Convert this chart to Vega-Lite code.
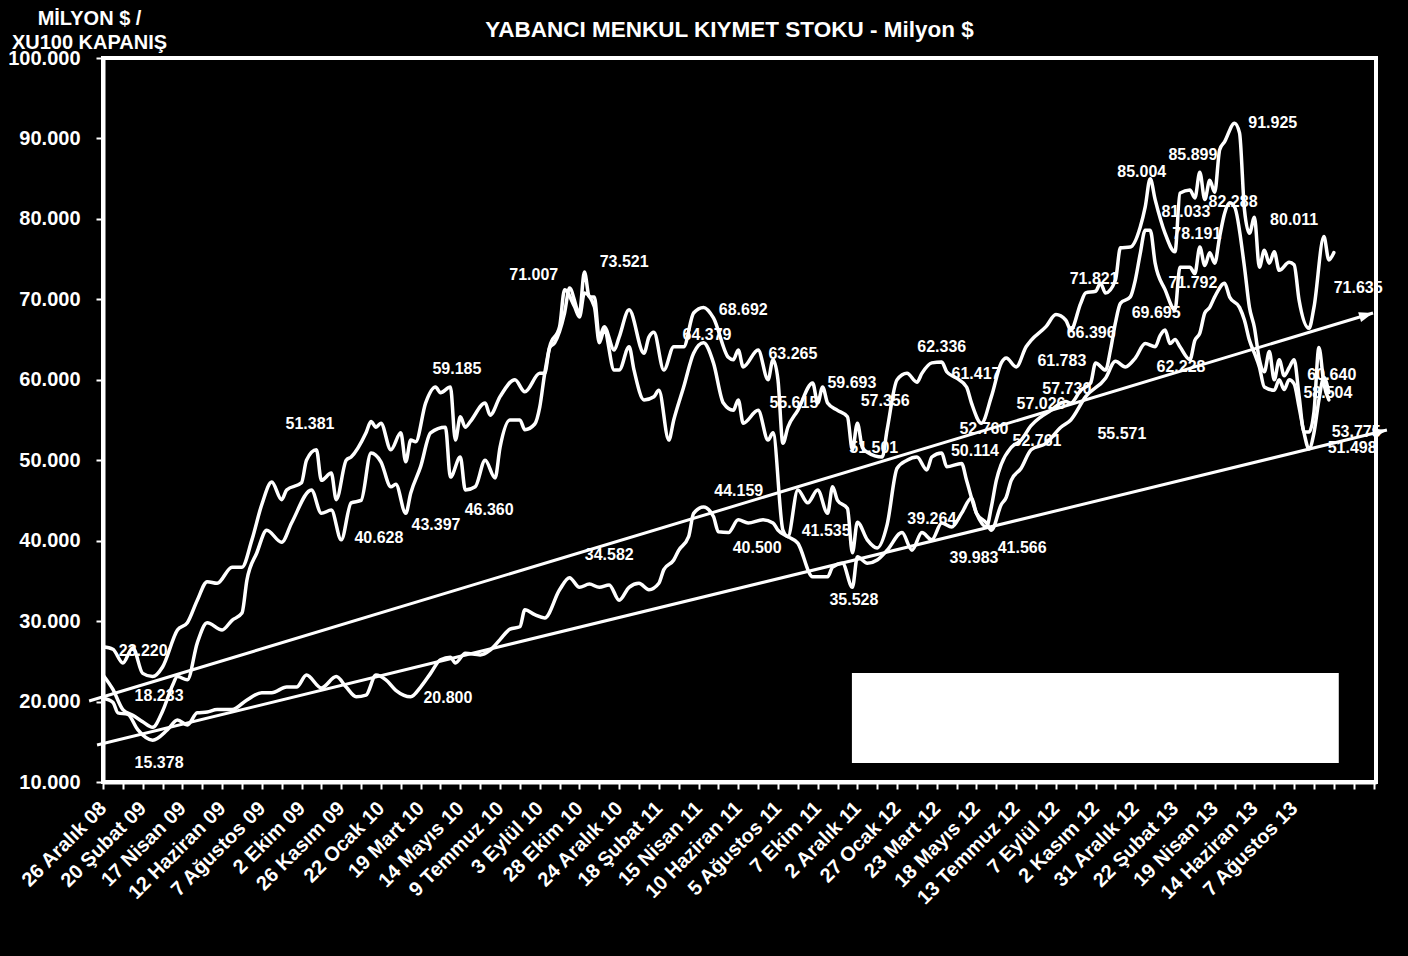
{
  "$schema": "https://vega.github.io/schema/vega-lite/v6.json",
  "width": 1273,
  "height": 724,
  "autosize": {"type": "none"},
  "padding": {"left": 103, "top": 58, "right": 32, "bottom": 174},
  "background": "black",
  "title": {
    "text": "YABANCI MENKUL KIYMET STOKU - Milyon $",
    "font": "Liberation Sans",
    "fontSize": 22.5,
    "fontWeight": "bold",
    "color": "white",
    "anchor": "middle",
    "frame": "group",
    "baseline": "alphabetic",
    "offset": -51,
    "dx": -10
  },
  "datasets": {
    "kutu": [{"h": 150.9, "h2": 249.0, "v": 23550, "v2": 12360}],
    "trend": [
      {"ad": "üst", "h": -2.8, "v": 20070, "h2": 255.9, "v2": 68300},
      {"ad": "alt", "h": -1.2, "v": 14600, "h2": 258.7, "v2": 53750}
    ],
    "seriler": [
      {"h":0,"s":"A","v":26800},{"h":2,"s":"A","v":26500},{"h":4,"s":"A","v":24800},{"h":6,"s":"A","v":26700},{"h":8,"s":"A","v":23500},{"h":10,"s":"A","v":23100},{"h":12,"s":"A","v":24300},{"h":15,"s":"A","v":28900},{"h":17,"s":"A","v":29800},{"h":19,"s":"A","v":32600},{"h":21,"s":"A","v":34900},{"h":23,"s":"A","v":34700},{"h":26,"s":"A","v":36700},{"h":28,"s":"A","v":36700},{"h":30,"s":"A","v":40100},{"h":32,"s":"A","v":44500},{"h":34,"s":"A","v":47300},{"h":36,"s":"A","v":45100},{"h":37,"s":"A","v":46300},{"h":40,"s":"A","v":47200},{"h":41,"s":"A","v":50000},{"h":43,"s":"A","v":51300},{"h":44,"s":"A","v":47500},{"h":46,"s":"A","v":48400},{"h":47,"s":"A","v":45100},{"h":49,"s":"A","v":50000},{"h":50,"s":"A","v":50400},{"h":53,"s":"A","v":53400},{"h":54,"s":"A","v":54800},{"h":55,"s":"A","v":54100},{"h":56,"s":"A","v":54600},{"h":58,"s":"A","v":51300},{"h":60,"s":"A","v":53400},{"h":61,"s":"A","v":49800},{"h":62,"s":"A","v":52500},{"h":63,"s":"A","v":52300},{"h":65,"s":"A","v":57100},{"h":67,"s":"A","v":59100},{"h":68,"s":"A","v":58400},{"h":70,"s":"A","v":59100},{"h":71,"s":"A","v":52500},{"h":72,"s":"A","v":55400},{"h":73,"s":"A","v":54100},{"h":74,"s":"A","v":54800},{"h":77,"s":"A","v":57100},{"h":78,"s":"A","v":55600},{"h":80,"s":"A","v":57900},{"h":83,"s":"A","v":60000},{"h":85,"s":"A","v":58500},{"h":88,"s":"A","v":60800},{"h":89,"s":"A","v":60800},{"h":90,"s":"A","v":64000},{"h":91,"s":"A","v":64600},{"h":93,"s":"A","v":68300},{"h":94,"s":"A","v":71400},{"h":96,"s":"A","v":68300},{"h":97,"s":"A","v":73400},{"h":98,"s":"A","v":70300},{"h":99,"s":"A","v":70300},{"h":100,"s":"A","v":65300},{"h":101,"s":"A","v":66600},{"h":103,"s":"A","v":63700},{"h":104,"s":"A","v":65300},{"h":106,"s":"A","v":68700},{"h":109,"s":"A","v":63300},{"h":110,"s":"A","v":65300},{"h":111,"s":"A","v":65900},{"h":113,"s":"A","v":61200},{"h":115,"s":"A","v":64100},{"h":117,"s":"A","v":64100},{"h":119,"s":"A","v":68300},{"h":121,"s":"A","v":69000},{"h":123,"s":"A","v":67700},{"h":126,"s":"A","v":62800},{"h":127,"s":"A","v":62500},{"h":128,"s":"A","v":63700},{"h":129,"s":"A","v":61600},{"h":132,"s":"A","v":63700},{"h":134,"s":"A","v":60000},{"h":135,"s":"A","v":62500},{"h":136,"s":"A","v":60000},{"h":137,"s":"A","v":52100},{"h":138,"s":"A","v":54100},{"h":140,"s":"A","v":56200},{"h":143,"s":"A","v":59600},{"h":144,"s":"A","v":57100},{"h":145,"s":"A","v":59100},{"h":146,"s":"A","v":57100},{"h":148,"s":"A","v":56200},{"h":150,"s":"A","v":55400},{"h":151,"s":"A","v":51300},{"h":152,"s":"A","v":54600},{"h":153,"s":"A","v":51600},{"h":154,"s":"A","v":51000},{"h":157,"s":"A","v":50400},{"h":158,"s":"A","v":53800},{"h":160,"s":"A","v":60000},{"h":162,"s":"A","v":60800},{"h":164,"s":"A","v":59700},{"h":165,"s":"A","v":60800},{"h":167,"s":"A","v":62100},{"h":169,"s":"A","v":62200},{"h":170,"s":"A","v":61000},{"h":172,"s":"A","v":60200},{"h":174,"s":"A","v":59100},{"h":175,"s":"A","v":57100},{"h":177,"s":"A","v":54600},{"h":179,"s":"A","v":57900},{"h":181,"s":"A","v":62100},{"h":182,"s":"A","v":62700},{"h":184,"s":"A","v":61600},{"h":186,"s":"A","v":64100},{"h":187,"s":"A","v":64900},{"h":190,"s":"A","v":66600},{"h":192,"s":"A","v":68100},{"h":194,"s":"A","v":67400},{"h":195,"s":"A","v":66200},{"h":197,"s":"A","v":69500},{"h":198,"s":"A","v":70800},{"h":200,"s":"A","v":71000},{"h":201,"s":"A","v":72000},{"h":202,"s":"A","v":70800},{"h":204,"s":"A","v":72400},{"h":205,"s":"A","v":76400},{"h":207,"s":"A","v":76500},{"h":209,"s":"A","v":79000},{"h":210,"s":"A","v":81500},{"h":211,"s":"A","v":85000},{"h":212,"s":"A","v":82400},{"h":214,"s":"A","v":78200},{"h":216,"s":"A","v":75900},{"h":217,"s":"A","v":83200},{"h":219,"s":"A","v":83600},{"h":220,"s":"A","v":82600},{"h":221,"s":"A","v":85800},{"h":222,"s":"A","v":82400},{"h":223,"s":"A","v":84800},{"h":224,"s":"A","v":83300},{"h":225,"s":"A","v":88600},{"h":226,"s":"A","v":89600},{"h":228,"s":"A","v":91900},{"h":229,"s":"A","v":90700},{"h":230,"s":"A","v":81100},{"h":231,"s":"A","v":78200},{"h":232,"s":"A","v":80200},{"h":233,"s":"A","v":74000},{"h":234,"s":"A","v":76100},{"h":235,"s":"A","v":74500},{"h":236,"s":"A","v":75900},{"h":237,"s":"A","v":73600},{"h":239,"s":"A","v":74600},{"h":240,"s":"A","v":74300},{"h":241,"s":"A","v":69900},{"h":243,"s":"A","v":66400},{"h":244,"s":"A","v":69000},{"h":246,"s":"A","v":77800},{"h":247,"s":"A","v":74900},{"h":248,"s":"A","v":75800},
      {"h":0,"s":"B","v":23300},{"h":2,"s":"B","v":21500},{"h":4,"s":"B","v":19000},{"h":6,"s":"B","v":18300},{"h":8,"s":"B","v":17500},{"h":10,"s":"B","v":16800},{"h":12,"s":"B","v":18800},{"h":14,"s":"B","v":22000},{"h":15,"s":"B","v":23100},{"h":17,"s":"B","v":22700},{"h":19,"s":"B","v":27300},{"h":21,"s":"B","v":29800},{"h":24,"s":"B","v":28900},{"h":26,"s":"B","v":30100},{"h":28,"s":"B","v":31000},{"h":29,"s":"B","v":35100},{"h":31,"s":"B","v":38500},{"h":33,"s":"B","v":41300},{"h":36,"s":"B","v":39800},{"h":38,"s":"B","v":42200},{"h":42,"s":"B","v":46300},{"h":44,"s":"B","v":43400},{"h":46,"s":"B","v":43800},{"h":48,"s":"B","v":40100},{"h":50,"s":"B","v":44700},{"h":52,"s":"B","v":45000},{"h":54,"s":"B","v":50900},{"h":56,"s":"B","v":49800},{"h":58,"s":"B","v":46700},{"h":59,"s":"B","v":47000},{"h":61,"s":"B","v":43400},{"h":62,"s":"B","v":45900},{"h":64,"s":"B","v":49200},{"h":66,"s":"B","v":53400},{"h":69,"s":"B","v":54100},{"h":70,"s":"B","v":47900},{"h":72,"s":"B","v":50400},{"h":73,"s":"B","v":46300},{"h":75,"s":"B","v":46700},{"h":77,"s":"B","v":50000},{"h":79,"s":"B","v":47800},{"h":80,"s":"B","v":51600},{"h":82,"s":"B","v":55000},{"h":84,"s":"B","v":55000},{"h":85,"s":"B","v":53800},{"h":87,"s":"B","v":54500},{"h":88,"s":"B","v":56600},{"h":89,"s":"B","v":60800},{"h":90,"s":"B","v":64100},{"h":92,"s":"B","v":66600},{"h":93,"s":"B","v":71200},{"h":95,"s":"B","v":69100},{"h":96,"s":"B","v":67800},{"h":97,"s":"B","v":70800},{"h":99,"s":"B","v":69100},{"h":100,"s":"B","v":64600},{"h":101,"s":"B","v":66200},{"h":103,"s":"B","v":61200},{"h":104,"s":"B","v":61200},{"h":106,"s":"B","v":64100},{"h":107,"s":"B","v":61200},{"h":109,"s":"B","v":57500},{"h":111,"s":"B","v":57900},{"h":112,"s":"B","v":58700},{"h":114,"s":"B","v":52500},{"h":115,"s":"B","v":55000},{"h":117,"s":"B","v":59100},{"h":119,"s":"B","v":63300},{"h":121,"s":"B","v":64600},{"h":123,"s":"B","v":62100},{"h":125,"s":"B","v":57100},{"h":127,"s":"B","v":56200},{"h":128,"s":"B","v":57500},{"h":129,"s":"B","v":54600},{"h":132,"s":"B","v":56200},{"h":134,"s":"B","v":52500},{"h":135,"s":"B","v":53400},{"h":137,"s":"B","v":41300},{"h":138,"s":"B","v":40500},{"h":140,"s":"B","v":46300},{"h":142,"s":"B","v":44700},{"h":144,"s":"B","v":46300},{"h":146,"s":"B","v":43400},{"h":147,"s":"B","v":46700},{"h":148,"s":"B","v":45000},{"h":150,"s":"B","v":44000},{"h":151,"s":"B","v":38500},{"h":152,"s":"B","v":42300},{"h":154,"s":"B","v":40100},{"h":156,"s":"B","v":39100},{"h":158,"s":"B","v":42000},{"h":160,"s":"B","v":49000},{"h":162,"s":"B","v":50000},{"h":164,"s":"B","v":50400},{"h":166,"s":"B","v":48800},{"h":167,"s":"B","v":50400},{"h":169,"s":"B","v":50900},{"h":170,"s":"B","v":49200},{"h":173,"s":"B","v":49600},{"h":174,"s":"B","v":47500},{"h":176,"s":"B","v":43400},{"h":178,"s":"B","v":41700},{"h":179,"s":"B","v":44200},{"h":180,"s":"B","v":47500},{"h":181,"s":"B","v":49500},{"h":183,"s":"B","v":51600},{"h":185,"s":"B","v":52500},{"h":187,"s":"B","v":54300},{"h":189,"s":"B","v":55400},{"h":191,"s":"B","v":56200},{"h":193,"s":"B","v":57100},{"h":194,"s":"B","v":57300},{"h":195,"s":"B","v":57100},{"h":197,"s":"B","v":58700},{"h":199,"s":"B","v":59600},{"h":200,"s":"B","v":62100},{"h":202,"s":"B","v":61200},{"h":203,"s":"B","v":63700},{"h":204,"s":"B","v":67100},{"h":205,"s":"B","v":69500},{"h":207,"s":"B","v":70300},{"h":208,"s":"B","v":72400},{"h":209,"s":"B","v":75700},{"h":210,"s":"B","v":78600},{"h":211,"s":"B","v":78600},{"h":212,"s":"B","v":74500},{"h":214,"s":"B","v":71200},{"h":216,"s":"B","v":68700},{"h":217,"s":"B","v":74000},{"h":219,"s":"B","v":74000},{"h":220,"s":"B","v":73200},{"h":221,"s":"B","v":76500},{"h":222,"s":"B","v":74200},{"h":223,"s":"B","v":75800},{"h":224,"s":"B","v":74500},{"h":225,"s":"B","v":77800},{"h":226,"s":"B","v":80700},{"h":227,"s":"B","v":82000},{"h":228,"s":"B","v":81500},{"h":230,"s":"B","v":74000},{"h":231,"s":"B","v":69000},{"h":232,"s":"B","v":66500},{"h":233,"s":"B","v":62500},{"h":234,"s":"B","v":61000},{"h":235,"s":"B","v":63500},{"h":236,"s":"B","v":60000},{"h":237,"s":"B","v":62500},{"h":238,"s":"B","v":60500},{"h":239,"s":"B","v":61500},{"h":240,"s":"B","v":62500},{"h":241,"s":"B","v":58000},{"h":242,"s":"B","v":53500},{"h":243,"s":"B","v":53500},{"h":244,"s":"B","v":56000},{"h":245,"s":"B","v":64000},{"h":246,"s":"B","v":59500},{"h":247,"s":"B","v":57500},
      {"h":0,"s":"C","v":20400},{"h":2,"s":"C","v":19900},{"h":3,"s":"C","v":18600},{"h":5,"s":"C","v":18400},{"h":7,"s":"C","v":16500},{"h":10,"s":"C","v":15200},{"h":13,"s":"C","v":16500},{"h":15,"s":"C","v":17700},{"h":17,"s":"C","v":17100},{"h":19,"s":"C","v":18600},{"h":21,"s":"C","v":18700},{"h":23,"s":"C","v":19000},{"h":26,"s":"C","v":19000},{"h":29,"s":"C","v":20200},{"h":32,"s":"C","v":21100},{"h":34,"s":"C","v":21100},{"h":37,"s":"C","v":21800},{"h":39,"s":"C","v":21800},{"h":41,"s":"C","v":23300},{"h":44,"s":"C","v":21700},{"h":47,"s":"C","v":23100},{"h":49,"s":"C","v":21800},{"h":51,"s":"C","v":20600},{"h":53,"s":"C","v":20800},{"h":55,"s":"C","v":23300},{"h":57,"s":"C","v":22700},{"h":59,"s":"C","v":21400},{"h":62,"s":"C","v":20600},{"h":64,"s":"C","v":21800},{"h":66,"s":"C","v":23500},{"h":68,"s":"C","v":25200},{"h":70,"s":"C","v":25500},{"h":71,"s":"C","v":24800},{"h":73,"s":"C","v":26000},{"h":76,"s":"C","v":25800},{"h":78,"s":"C","v":26400},{"h":80,"s":"C","v":27700},{"h":82,"s":"C","v":29000},{"h":84,"s":"C","v":29300},{"h":85,"s":"C","v":31400},{"h":87,"s":"C","v":30800},{"h":89,"s":"C","v":30400},{"h":92,"s":"C","v":33900},{"h":94,"s":"C","v":35400},{"h":96,"s":"C","v":34200},{"h":98,"s":"C","v":34600},{"h":100,"s":"C","v":34200},{"h":102,"s":"C","v":34500},{"h":104,"s":"C","v":32600},{"h":106,"s":"C","v":34200},{"h":108,"s":"C","v":34700},{"h":110,"s":"C","v":33900},{"h":112,"s":"C","v":34700},{"h":113,"s":"C","v":36400},{"h":115,"s":"C","v":37600},{"h":116,"s":"C","v":38800},{"h":118,"s":"C","v":40500},{"h":119,"s":"C","v":43400},{"h":121,"s":"C","v":44200},{"h":123,"s":"C","v":43000},{"h":124,"s":"C","v":41100},{"h":126,"s":"C","v":41000},{"h":128,"s":"C","v":42600},{"h":130,"s":"C","v":42200},{"h":133,"s":"C","v":42600},{"h":135,"s":"C","v":42200},{"h":136,"s":"C","v":41300},{"h":138,"s":"C","v":40500},{"h":140,"s":"C","v":39700},{"h":143,"s":"C","v":35500},{"h":146,"s":"C","v":35500},{"h":147,"s":"C","v":36700},{"h":149,"s":"C","v":37200},{"h":151,"s":"C","v":34200},{"h":152,"s":"C","v":38000},{"h":154,"s":"C","v":37200},{"h":156,"s":"C","v":37600},{"h":158,"s":"C","v":38800},{"h":161,"s":"C","v":41000},{"h":163,"s":"C","v":38800},{"h":165,"s":"C","v":41000},{"h":167,"s":"C","v":40100},{"h":169,"s":"C","v":42200},{"h":171,"s":"C","v":41700},{"h":173,"s":"C","v":43400},{"h":175,"s":"C","v":45300},{"h":176,"s":"C","v":43400},{"h":178,"s":"C","v":42200},{"h":179,"s":"C","v":41300},{"h":181,"s":"C","v":44500},{"h":182,"s":"C","v":45400},{"h":183,"s":"C","v":47500},{"h":185,"s":"C","v":49000},{"h":187,"s":"C","v":51300},{"h":190,"s":"C","v":52100},{"h":193,"s":"C","v":54100},{"h":195,"s":"C","v":55000},{"h":198,"s":"C","v":57900},{"h":202,"s":"C","v":60200},{"h":204,"s":"C","v":62300},{"h":206,"s":"C","v":61600},{"h":208,"s":"C","v":62700},{"h":210,"s":"C","v":64500},{"h":212,"s":"C","v":64100},{"h":213,"s":"C","v":65500},{"h":214,"s":"C","v":66200},{"h":215,"s":"C","v":64500},{"h":216,"s":"C","v":65000},{"h":217,"s":"C","v":64100},{"h":219,"s":"C","v":62500},{"h":220,"s":"C","v":64900},{"h":221,"s":"C","v":65800},{"h":222,"s":"C","v":68300},{"h":223,"s":"C","v":69000},{"h":224,"s":"C","v":70300},{"h":226,"s":"C","v":72000},{"h":227,"s":"C","v":70300},{"h":229,"s":"C","v":69000},{"h":230,"s":"C","v":67400},{"h":231,"s":"C","v":64900},{"h":232,"s":"C","v":63300},{"h":233,"s":"C","v":61600},{"h":234,"s":"C","v":59100},{"h":236,"s":"C","v":58700},{"h":237,"s":"C","v":60000},{"h":238,"s":"C","v":58800},{"h":239,"s":"C","v":60000},{"h":240,"s":"C","v":59500},{"h":241,"s":"C","v":56600},{"h":242,"s":"C","v":53400},{"h":243,"s":"C","v":51400},{"h":244,"s":"C","v":53400},{"h":245,"s":"C","v":57500},{"h":246,"s":"C","v":60300},{"h":247,"s":"C","v":58400}
    ],
    "etiket": [
      {"h":8.1,"v":26280,"t":"23.220"},{"h":11.3,"v":20690,"t":"18.233"},{"h":11.3,"v":12360,"t":"15.378"},{"h":41.7,"v":54500,"t":"51.381"},{"h":71.3,"v":61340,"t":"59.185"},{"h":55.6,"v":40330,"t":"40.628"},{"h":67.1,"v":41950,"t":"43.397"},{"h":77.8,"v":43810,"t":"46.360"},{"h":69.5,"v":20440,"t":"20.800"},{"h":86.8,"v":73020,"t":"71.007"},{"h":105.0,"v":74640,"t":"73.521"},{"h":129.0,"v":68670,"t":"68.692"},{"h":121.7,"v":65560,"t":"64.379"},{"h":139.0,"v":63200,"t":"63.265"},{"h":102.0,"v":38220,"t":"34.582"},{"h":128.1,"v":46170,"t":"44.159"},{"h":131.8,"v":39090,"t":"40.500"},{"h":139.2,"v":57110,"t":"55.615"},{"h":150.9,"v":59600,"t":"59.693"},{"h":157.6,"v":57360,"t":"57.356"},{"h":155.3,"v":51520,"t":"51.501"},{"h":145.7,"v":41200,"t":"41.535"},{"h":151.3,"v":32620,"t":"35.528"},{"h":169.0,"v":64070,"t":"62.336"},{"h":175.9,"v":60710,"t":"61.417"},{"h":177.5,"v":53880,"t":"52.760"},{"h":175.7,"v":51140,"t":"50.114"},{"h":167.0,"v":42690,"t":"39.264"},{"h":175.5,"v":37840,"t":"39.983"},{"h":185.2,"v":39090,"t":"41.566"},{"h":199.7,"v":72530,"t":"71.821"},{"h":199.1,"v":65810,"t":"66.396"},{"h":193.2,"v":62330,"t":"61.783"},{"h":194.2,"v":58850,"t":"57.730"},{"h":189.0,"v":56990,"t":"57.026"},{"h":188.2,"v":52390,"t":"52.761"},{"h":205.3,"v":53260,"t":"55.571"},{"h":209.3,"v":85820,"t":"85.004"},{"h":219.6,"v":87940,"t":"85.899"},{"h":218.2,"v":80850,"t":"81.033"},{"h":227.7,"v":82090,"t":"82.288"},{"h":220.4,"v":78120,"t":"78.191"},{"h":235.7,"v":91910,"t":"91.925"},{"h":240.0,"v":79860,"t":"80.011"},{"h":212.2,"v":68300,"t":"69.695"},{"h":219.6,"v":72030,"t":"71.792"},{"h":217.2,"v":61580,"t":"62.228"},{"h":252.9,"v":71400,"t":"71.635"},{"h":247.6,"v":60590,"t":"60.640"},{"h":246.8,"v":58350,"t":"58.504"},{"h":252.5,"v":53510,"t":"53.775"},{"h":251.7,"v":51520,"t":"51.498"}
    ]
  },
  "layer": [
    {
      "data": {"name": "seriler"},
      "mark": {"type": "line", "interpolate": "monotone", "color": "white", "strokeWidth": 3.5, "strokeJoin": "round", "strokeCap": "round"},
      "encoding": {
        "x": {
          "field": "h", "type": "quantitative",
          "scale": {"domain": [0, 256.5], "nice": false, "zero": false},
          "axis": {
            "title": null,
            "values": [0,4,8,12,16,20,24,28,32,36,40,44,48,52,56,60,64,68,72,76,80,84,88,92,96,100,104,108,112,116,120,124,128,132,136,140,144,148,152,156,160,164,168,172,176,180,184,188,192,196,200,204,208,212,216,220,224,228,232,236,240,244,248,252,256],
            "tickCount": 200,
            "labelExpr": "datum.value % 8 == 0 && datum.value <= 240 ? ['26 Aralık 08','20 Şubat 09','17 Nisan 09','12 Haziran 09','7 Ağustos 09','2 Ekim 09','26 Kasım 09','22 Ocak 10','19 Mart 10','14 Mayıs 10','9 Temmuz 10','3 Eylül 10','28 Ekim 10','24 Aralık 10','18 Şubat 11','15 Nisan 11','10 Haziran 11','5 Ağustos 11','7 Ekim 11','2 Aralık 11','27 Ocak 12','23 Mart 12','18 Mayıs 12','13 Temmuz 12','7 Eylül 12','2 Kasım 12','31 Aralık 12','22 Şubat 13','19 Nisan 13','14 Haziran 13','7 Ağustos 13'][datum.value / 8] : ''",
            "labelAngle": -45,
            "labelAlign": "right",
            "labelBaseline": "middle",
            "labelOverlap": false,
            "labelFlush": false,
            "labelBound": false,
            "tickSize": 7,
            "labelPadding": 16
          }
        },
        "y": {
          "field": "v", "type": "quantitative",
          "scale": {"domain": [10000, 100000], "nice": false, "zero": false},
          "axis": {
            "title": ["MİLYON  $ /", "XU100 KAPANIŞ"],
            "titleAngle": 0,
            "titleAlign": "center",
            "titleBaseline": "alphabetic",
            "titleX": -14,
            "titleY": -34,
            "titleFontSize": 20,
            "titleLineHeight": 24,
            "values": [10000,20000,30000,40000,50000,60000,70000,80000,90000,100000],
            "tickCount": 50,
            "labelExpr": "replace(format(datum.value, ','), ',', '.')",
            "tickSize": 7,
            "labelPadding": 16,
            "labelFlush": false,
            "labelOverlap": false
          }
        },
        "detail": {"field": "s", "type": "nominal"}
      }
    },
    {
      "data": {"name": "kutu"},
      "mark": {"type": "rect", "color": "white"},
      "encoding": {
        "x": {"field": "h", "type": "quantitative", "scale": {"domain": [0, 256.5], "nice": false, "zero": false}},
        "x2": {"field": "h2"},
        "y": {"field": "v", "type": "quantitative", "scale": {"domain": [10000, 100000], "nice": false, "zero": false}},
        "y2": {"field": "v2"}
      }
    },
    {
      "data": {"name": "trend"},
      "mark": {"type": "rule", "color": "white", "strokeWidth": 3},
      "encoding": {
        "x": {"field": "h", "type": "quantitative", "scale": {"domain": [0, 256.5], "nice": false, "zero": false}},
        "x2": {"field": "h2"},
        "y": {"field": "v", "type": "quantitative", "scale": {"domain": [10000, 100000], "nice": false, "zero": false}},
        "y2": {"field": "v2"}
      }
    },
    {
      "data": {"name": "trend"},
      "transform": [{"filter": "datum.ad == 'üst'"}],
      "mark": {"type": "point", "shape": "M0,0L-1,-0.36L-1,0.36Z", "filled": true, "color": "white", "opacity": 1, "size": 784, "angle": 343.2, "strokeWidth": 0},
      "encoding": {
        "x": {"field": "h2", "type": "quantitative", "scale": {"domain": [0, 256.5], "nice": false, "zero": false}},
        "y": {"field": "v2", "type": "quantitative", "scale": {"domain": [10000, 100000], "nice": false, "zero": false}}
      }
    },
    {
      "data": {"name": "trend"},
      "transform": [{"filter": "datum.ad == 'alt'"}],
      "mark": {"type": "point", "shape": "M0,0L-1,-0.36L-1,0.36Z", "filled": true, "color": "white", "opacity": 1, "size": 784, "angle": 346.3, "strokeWidth": 0},
      "encoding": {
        "x": {"field": "h2", "type": "quantitative", "scale": {"domain": [0, 256.5], "nice": false, "zero": false}},
        "y": {"field": "v2", "type": "quantitative", "scale": {"domain": [10000, 100000], "nice": false, "zero": false}}
      }
    },
    {
      "data": {"name": "etiket"},
      "mark": {"type": "text", "color": "white", "font": "Liberation Sans", "fontSize": 16, "fontWeight": "bold", "align": "center", "baseline": "middle"},
      "encoding": {
        "x": {"field": "h", "type": "quantitative", "scale": {"domain": [0, 256.5], "nice": false, "zero": false}},
        "y": {"field": "v", "type": "quantitative", "scale": {"domain": [10000, 100000], "nice": false, "zero": false}},
        "text": {"field": "t", "type": "nominal"}
      }
    }
  ],
  "config": {
    "view": {"stroke": "white", "strokeWidth": 4},
    "axis": {
      "grid": false,
      "domainColor": "white",
      "domainWidth": 4,
      "tickColor": "white",
      "tickWidth": 2,
      "labelColor": "white",
      "labelFont": "Liberation Sans",
      "labelFontWeight": "bold",
      "labelFontSize": 20,
      "titleColor": "white",
      "titleFont": "Liberation Sans",
      "titleFontWeight": "bold",
      "labelOverlap": false,
      "labelFlush": false
    },
    "axisX": {"labelOverlap": false, "labelBound": false, "tickSize": 7, "tickCount": 200}
  }
}
